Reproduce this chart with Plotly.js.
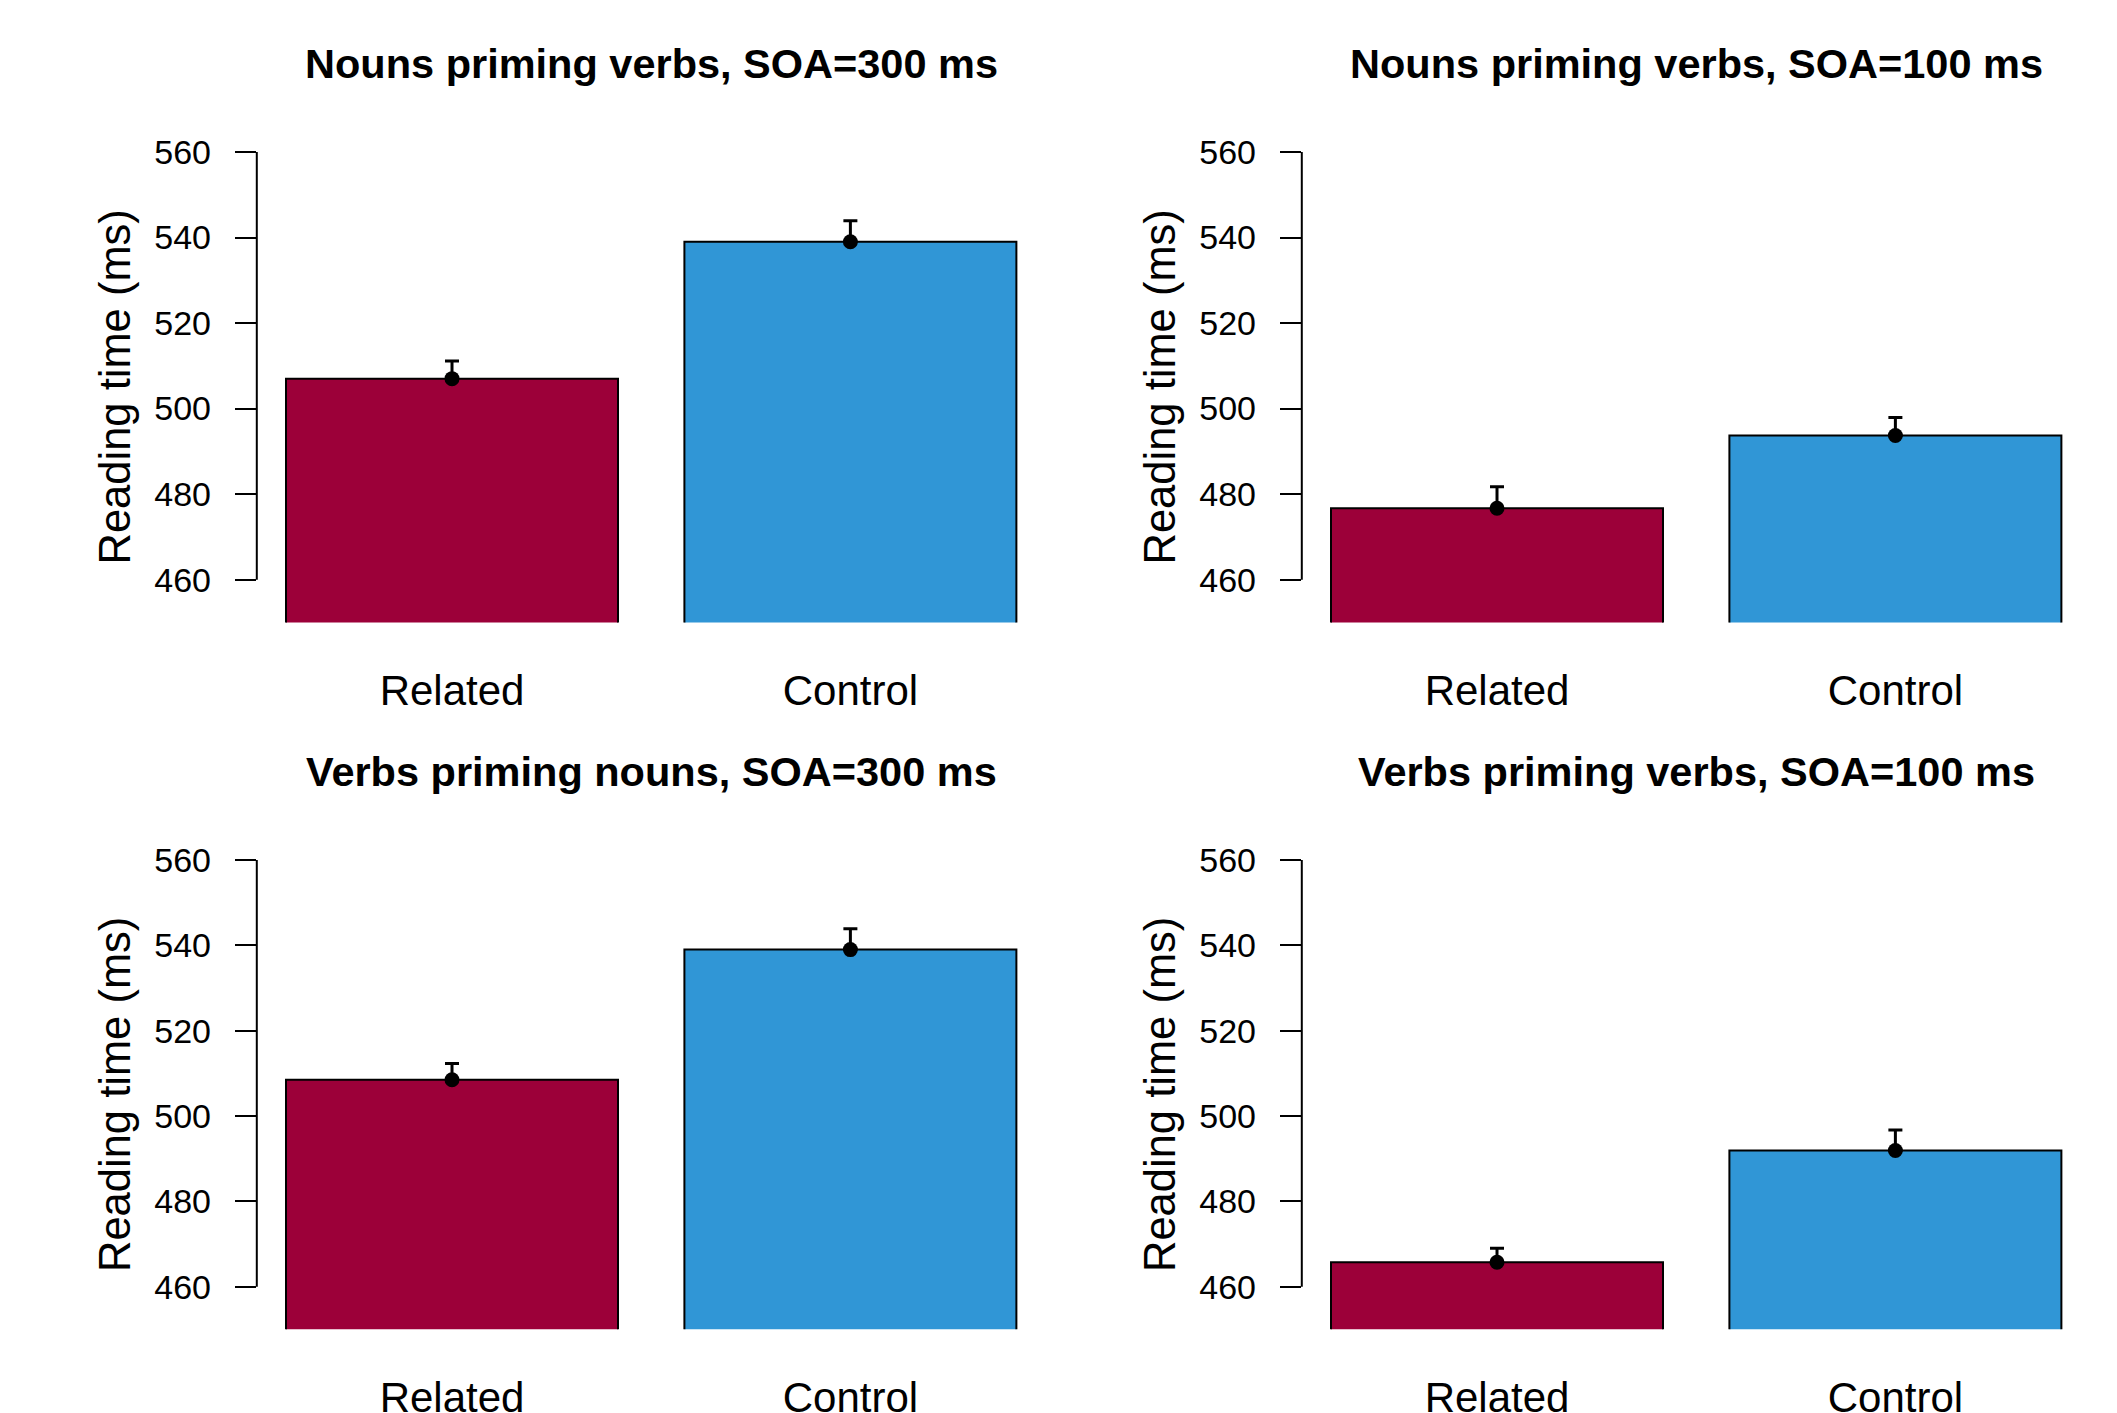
<!DOCTYPE html>
<html>
<head>
<meta charset="utf-8">
<script src="https://cdn.plot.ly/plotly-3.0.1.min.js"></script>
<style>html,body{margin:0;padding:0;background:#fff;}#chart{width:2117px;height:1413px;}</style>
</head>
<body>
<div id="chart"></div>
<script>
// ---- data ----
const categories = ["Related", "Control"];
const panelTitles = [
  "Nouns priming verbs, SOA=300 ms",
  "Nouns priming verbs, SOA=100 ms",
  "Verbs priming nouns, SOA=300 ms",
  "Verbs priming verbs, SOA=100 ms"
];
const relatedMeans = [507.0, 476.7, 508.5, 465.7];
const controlMeans = [539.0, 493.7, 539.0, 491.9];
const relatedErr   = [4.1, 5.0, 3.8, 3.3];
const controlErr   = [4.9, 4.2, 4.9, 4.8];
const yTicks = [460, 480, 500, 520, 540, 560];
const yTitle = "Reading time (ms)";
const barColors = ["#9C0039", "#3096D6"];

// ---- layout geometry ----
const W = 2117, H = 1413;
const barPos = [0.7, 1.9];          // barplot centres (width 1, space 0.2)
const xRange = [0.112, 2.488];
const yRange = [450, 565];
const xDoms = [[256.8 / W, 1045.6 / W], [1301.8 / W, 2090.6 / W]];
const yDoms = [[(H - 622.4) / H, (H - 130.6) / H], [(H - 1329.3) / H, (H - 838.7) / H]];
const titleY = [(H - 63.5) / H, (H - 771) / H];
const yTitleY = [(H - 387.5) / H, (H - 1095) / H];
const yTitleX = [115 / W, 1160 / W];
const FONT = "Liberation Sans, Arial, Helvetica, sans-serif";

const traces = [];
const layout = {
  width: W, height: H,
  margin: {l: 0, r: 0, t: 0, b: 0},
  paper_bgcolor: "#fff", plot_bgcolor: "#fff",
  showlegend: false,
  font: {family: FONT, color: "#000"},
  annotations: [], shapes: []
};

for (let i = 0; i < 4; i++) {
  const row = Math.floor(i / 2), col = i % 2;
  const sfx = i === 0 ? "" : String(i + 1);
  const xa = "x" + sfx, ya = "y" + sfx;
  const means = [relatedMeans[i], controlMeans[i]];
  const errs = [relatedErr[i], controlErr[i]];

  traces.push({
    type: "bar", x: barPos, y: means, width: 1,
    xaxis: xa, yaxis: ya,
    marker: {color: barColors, line: {color: "#000", width: 2}},
    error_y: {type: "data", symmetric: false, array: errs, arrayminus: [0, 0],
              color: "#000", thickness: 3, width: 7},
    hoverinfo: "y"
  });
  traces.push({
    type: "scatter", mode: "markers", x: barPos, y: means,
    xaxis: xa, yaxis: ya,
    marker: {color: "#000", size: 15}, hoverinfo: "skip"
  });

  layout["xaxis" + sfx] = {
    domain: xDoms[col], anchor: ya, range: xRange,
    showline: false, showgrid: false, zeroline: false, ticks: "",
    tickvals: barPos, ticktext: categories,
    tickfont: {size: 42, family: FONT, color: "#000"},
    ticklabelstandoff: 40, fixedrange: true
  };
  layout["yaxis" + sfx] = {
    domain: yDoms[row], anchor: xa, range: yRange,
    showline: false, showgrid: false, zeroline: false,
    tickvals: yTicks, ticks: "outside", ticklen: 21, tickwidth: 2, tickcolor: "#000",
    tickfont: {size: 34, family: FONT, color: "#000"},
    ticklabelstandoff: 17,
    fixedrange: true
  };
  layout.shapes.push({
    type: "line", xref: xa + " domain", yref: ya,
    x0: 0, x1: 0, y0: yTicks[0], y1: yTicks[yTicks.length - 1],
    line: {color: "#000", width: 2}
  });
  layout.annotations.push({
    text: "<b>" + panelTitles[i] + "</b>",
    xref: "paper", yref: "paper",
    x: (xDoms[col][0] + xDoms[col][1]) / 2, y: titleY[row],
    xanchor: "center", yanchor: "middle", showarrow: false,
    font: {size: 41.5, family: FONT, color: "#000"}
  });
  layout.annotations.push({
    text: yTitle, textangle: -90,
    xref: "paper", yref: "paper",
    x: yTitleX[col], y: yTitleY[row],
    xanchor: "center", yanchor: "middle", showarrow: false,
    font: {size: 43.5, family: FONT, color: "#000"}
  });
}

Plotly.newPlot("chart", traces, layout, {displayModeBar: false, staticPlot: true});
</script>
</body>
</html>
